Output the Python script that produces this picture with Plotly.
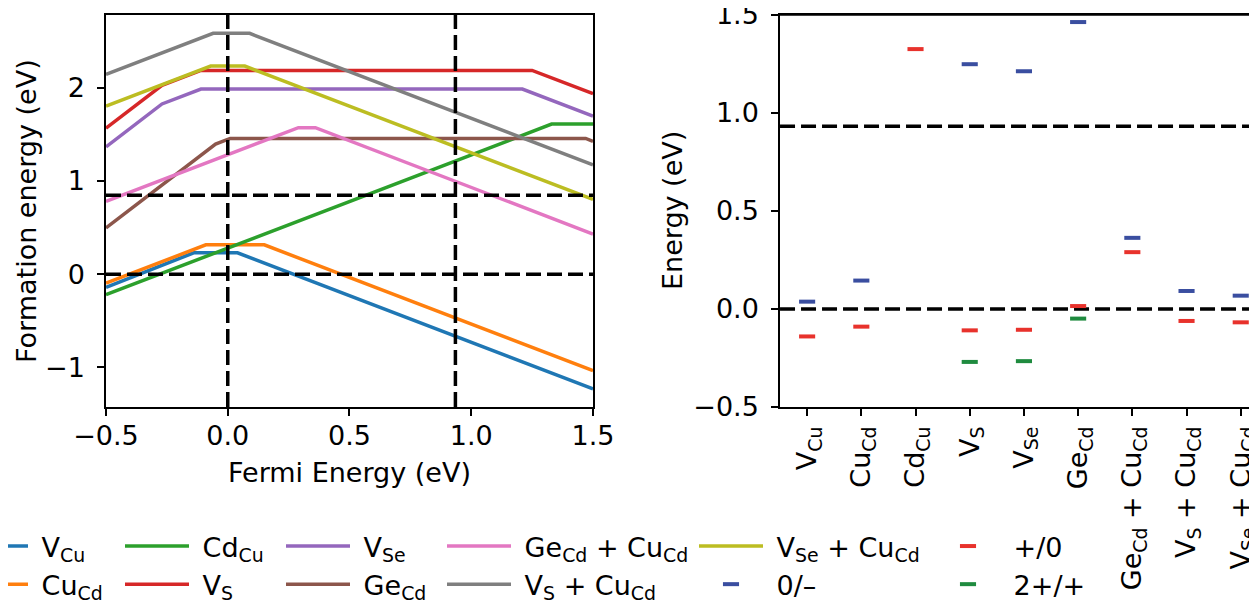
import plotly.graph_objects as go

# ---------------- Left panel: formation energy vs Fermi energy (kink points) ----------------
fermi_vcu = [-0.5, -0.14, 0.04, 1.5]
form_vcu = [-0.14, 0.23, 0.23, -1.23]
fermi_cucd = [-0.5, -0.09, 0.15, 1.5]
form_cucd = [-0.095, 0.315, 0.315, -1.035]
fermi_cdcu = [-0.5, 1.33, 1.5]
form_cdcu = [-0.22, 1.61, 1.61]
fermi_vs = [-0.5, -0.27, -0.11, 1.25, 1.5]
form_vs = [1.566, 2.026, 2.186, 2.186, 1.936]
fermi_vse = [-0.5, -0.27, -0.11, 1.21, 1.5]
form_vse = [1.366, 1.826, 1.986, 1.986, 1.696]
fermi_gecd = [-0.5, -0.05, 0.01, 1.47, 1.5]
form_gecd = [0.496, 1.396, 1.456, 1.456, 1.426]
fermi_gecu = [-0.5, 0.29, 0.36, 1.5]
form_gecu = [0.781, 1.571, 1.571, 0.431]
fermi_vscu = [-0.5, -0.06, 0.09, 1.5]
form_vscu = [2.143, 2.583, 2.583, 1.173]
fermi_vsecu = [-0.5, -0.07, 0.07, 1.5]
form_vsecu = [1.803, 2.233, 2.233, 0.803]

left_vlines = [0.0, 0.935]
left_hlines = [0.0, 0.848]

# ---------------- Right panel: transition levels ----------------
categories = ["V<sub>Cu</sub>", "Cu<sub>Cd</sub>", "Cd<sub>Cu</sub>", "V<sub>S</sub>", "V<sub>Se</sub>",
              "Ge<sub>Cd</sub>", "Ge<sub>Cd</sub> + Cu<sub>Cd</sub>", "V<sub>S</sub> + Cu<sub>Cd</sub>",
              "V<sub>Se</sub> + Cu<sub>Cd</sub>"]
level_plus_zero = [-0.14, -0.09, 1.326, -0.109, -0.106, 0.015, 0.29, -0.061, -0.068]
level_zero_minus = [0.0375, 0.145, None, 1.249, 1.213, 1.464, 0.363, 0.092, 0.068]
level_2plus_plus = [None, None, None, -0.27, -0.266, -0.049, None, None, None]
right_hlines = [0.0, 0.932]

FONT = "DejaVu Sans"
FS = 27
NB = "\u00a0"

fig = go.Figure()

line_series = [
    ("V<sub>Cu</sub>", fermi_vcu, form_vcu, "#1f77b4", "legend"),
    ("Cu<sub>Cd</sub>", fermi_cucd, form_cucd, "#ff7f0e", "legend"),
    ("Cd<sub>Cu</sub>", fermi_cdcu, form_cdcu, "#2ca02c", "legend2"),
    ("V<sub>S</sub>", fermi_vs, form_vs, "#d62728", "legend2"),
    ("V<sub>Se</sub>", fermi_vse, form_vse, "#9467bd", "legend3"),
    ("Ge<sub>Cd</sub>", fermi_gecd, form_gecd, "#8c564b", "legend3"),
    ("Ge<sub>Cd</sub> + Cu<sub>Cd</sub>", fermi_gecu, form_gecu, "#e377c2", "legend4"),
    ("V<sub>S</sub> + Cu<sub>Cd</sub>", fermi_vscu, form_vscu, "#7f7f7f", "legend4"),
    ("V<sub>Se</sub> + Cu<sub>Cd</sub>", fermi_vsecu, form_vsecu, "#bcbd22", "legend5"),
]
for i, (name, xs, ys, col, lg) in enumerate(line_series):
    fig.add_trace(go.Scatter(x=xs, y=ys, mode="lines", name=NB + name, legend=lg,
                             legendgroup=f"g{i}",
                             line=dict(color=col, width=3.5), xaxis="x", yaxis="y"))

marker_series = [
    ("0/–", level_zero_minus, "#3a4ea0", "legend5"),
    ("+/0", level_plus_zero, "#e8322c", "legend6"),
    ("2+/+", level_2plus_plus, "#1f8b3f", "legend6"),
]
for i, (name, ys, col, lg) in enumerate(marker_series):
    fig.add_trace(go.Scatter(x=categories, y=ys, mode="markers", name=NB + name, legend=lg,
                             legendgroup=f"m{i}",
                             marker=dict(symbol="line-ew", size=11.5, color=col,
                                         line=dict(color=col, width=4)),
                             xaxis="x2", yaxis="y2"))

dash = dict(color="black", width=3.5, dash="15px,6px")
shapes = []
for v in left_vlines:
    shapes.append(dict(type="line", xref="x", yref="y domain", x0=v, x1=v, y0=0, y1=1,
                       line=dash, layer="above"))
for v in left_hlines:
    shapes.append(dict(type="line", xref="x domain", yref="y", x0=0, x1=1, y0=v, y1=v,
                       line=dash, layer="above"))
for v in right_hlines:
    shapes.append(dict(type="line", xref="x2 domain", yref="y2", x0=0, x1=1, y0=v, y1=v,
                       line=dash, layer="below"))
# top spine of the right panel
shapes.append(dict(type="line", xref="x2 domain", yref="y2 domain", x0=0, x1=1, y0=1, y1=1,
                   line=dict(color="black", width=1.5), layer="above"))

axis_common = dict(showline=True, linecolor="black", linewidth=1.5, ticks="outside",
                   ticklen=7, tickwidth=1.5, tickcolor="black", showgrid=False,
                   zeroline=False, tickfont=dict(family=FONT, size=FS, color="black"),
                   ticklabeloverflow="allow")

# page is offset by the 8px body margin; figure coords = screen - 8
ML, MT, MB, PW, H = 98, 7, 201, 1151, 600
PH = H - MT - MB
leg_common = dict(orientation="v", xref="paper", yref="container", xanchor="left",
                  yanchor="top", bgcolor="rgba(0,0,0,0)",
                  font=dict(family=FONT, size=FS, color="black"),
                  itemwidth=64, tracegroupgap=3, traceorder="normal")
legend_x_px = [-49, 112, 273, 434, 686, 923]
legends = {}
for i, px in enumerate(legend_x_px):
    key = "legend" if i == 0 else f"legend{i + 1}"
    legends[key] = dict(leg_common, x=(px - ML) / PW, y=1 - 514 / H)

annotations = [
    dict(text="Formation energy (eV)", xref="paper", yref="paper", x=(18 - ML) / PW, y=0.5,
         textangle=-90, showarrow=False, xanchor="center", yanchor="middle",
         font=dict(family=FONT, size=FS, color="black")),
    dict(text="Energy (eV)", xref="paper", yref="paper", x=(664 - ML) / PW, y=0.5,
         textangle=-90, showarrow=False, xanchor="center", yanchor="middle",
         font=dict(family=FONT, size=FS, color="black")),
    dict(text="Fermi Energy (eV)", xref="x domain", yref="paper", x=0.5, y=(H - MB - 464) / PH,
         showarrow=False, xanchor="center", yanchor="middle",
         font=dict(family=FONT, size=FS, color="black")),
]

fig.update_layout(
    width=1257, height=H,
    margin=dict(l=ML, r=8, t=MT, b=MB, autoexpand=False),
    plot_bgcolor="white", paper_bgcolor="white",
    font=dict(family=FONT, size=FS, color="black"),
    xaxis=dict(axis_common, domain=[0, 0.4231], range=[-0.5, 1.5], mirror=True,
               tickvals=[-0.5, 0, 0.5, 1.0, 1.5], tickformat=".1f", ticklabelstandoff=-3),
    yaxis=dict(axis_common, domain=[0, 1], range=[-1.424, 2.78], mirror=True,
               tickvals=[-1, 0, 1, 2], ticklabelstandoff=7),
    xaxis2=dict(axis_common, domain=[0.5856, 1], range=[-0.5, 8.3], mirror=True,
                type="category", categoryorder="array", categoryarray=categories,
                tickangle=-90, anchor="y2", ticklabelstandoff=0),
    yaxis2=dict(axis_common, domain=[0, 1], range=[-0.5, 1.5], anchor="x2",
                tickvals=[-0.5, 0, 0.5, 1.0, 1.5], tickformat=".1f", ticklabelstandoff=7),
    shapes=shapes,
    annotations=annotations,
    showlegend=True,
    **legends,
)

fig.write_html("out.html")
